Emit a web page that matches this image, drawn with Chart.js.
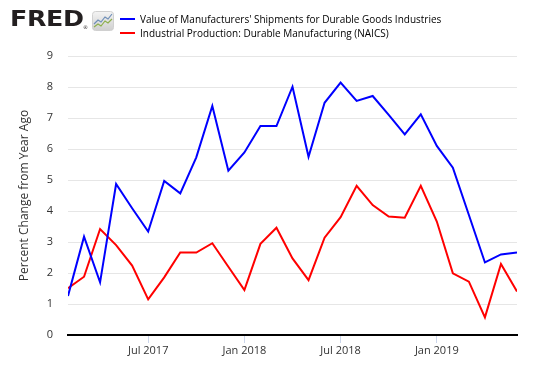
<!DOCTYPE html>
<html lang="en">
<head>
<meta charset="UTF-8" />
<title>FRED - Durable Goods Shipments vs Industrial Production</title>
<script src="https://cdn.jsdelivr.net/npm/chart.js"></script>
<style>
  html, body { margin: 0; padding: 0; background: #fff; }
  #wrap { position: relative; width: 537px; height: 385px; font-family: "Open Sans", sans-serif; color: #333; }
  #chart { position: absolute; left: 0; top: 0; }
  .logo { position: absolute; left: 10px; top: 6px; font: bold 22px "DejaVu Sans", sans-serif; color: #231f20; line-height: 26px;
          transform: scaleX(1.15); transform-origin: left top; letter-spacing: -0.3px; }
  .reg { position: absolute; left: 83px; top: 24px; font: 5px "DejaVu Sans", sans-serif; color: #231f20; }
  .icon { position: absolute; left: 92px; top: 11px; }
  .legend { position: absolute; left: 120px; font-size: 10px; line-height: 14px; white-space: nowrap; color: #000; }
  .legend span.sw { display: inline-block; width: 15px; height: 2px; vertical-align: middle; margin-right: 5px; position: relative; top: -1px; }
</style>
</head>
<body>
<div id="wrap">
  <canvas id="chart" width="537" height="385"></canvas>
  <div class="logo">FRED</div>
  <div class="reg">®</div>
  <svg class="icon" width="22" height="20" viewBox="0 0 22 20">
    <defs>
      <linearGradient id="g" x1="0" y1="0" x2="0" y2="1">
        <stop offset="0" stop-color="#f4f4f4" />
        <stop offset="1" stop-color="#cfcfcf" />
      </linearGradient>
    </defs>
    <rect x="0.5" y="0.5" width="21" height="19" rx="3" fill="url(#g)" stroke="#d0d0d0" />
    <polyline points="2,13 6,9 9,11 13,6 16,8 20,3" fill="none" stroke="#6f8fb8" stroke-width="1.2" />
    <polyline points="2,16 6,13 9,15 13,10 16,12 20,8" fill="none" stroke="#8db04d" stroke-width="1.2" />
  </svg>
  <div class="legend" style="top: 12px;"><span class="sw" style="background:#0000ff"></span>Value of Manufacturers' Shipments for Durable Goods Industries</div>
  <div class="legend" style="top: 26px;"><span class="sw" style="background:#ff0000"></span>Industrial Production: Durable Manufacturing (NAICS)</div>
</div>
<script>
// monthly observations, Feb 2017 .. Jun 2019
const months = [
  "2017-02", "2017-03", "2017-04", "2017-05", "2017-06", "2017-07", "2017-08", "2017-09", "2017-10", "2017-11", "2017-12",
  "2018-01", "2018-02", "2018-03", "2018-04", "2018-05", "2018-06", "2018-07", "2018-08", "2018-09", "2018-10", "2018-11", "2018-12",
  "2019-01", "2019-02", "2019-03", "2019-04", "2019-05", "2019-06"
];

const shipments = [
  1.26, 3.17, 1.70, 4.87, 4.09, 3.34, 4.97, 4.57, 5.73, 7.39, 5.30,
  5.89, 6.74, 6.74, 8.01, 5.75, 7.49, 8.14, 7.55, 7.71, 7.10, 6.47, 7.12,
  6.10, 5.40, 3.87, 2.34, 2.60, 2.66
];

const production = [
  1.51, 1.88, 3.42, 2.90, 2.24, 1.15, 1.86, 2.66, 2.66, 2.96, 2.20,
  1.45, 2.94, 3.46, 2.47, 1.77, 3.14, 3.80, 4.81, 4.19, 3.82, 3.78, 4.81,
  3.66, 1.99, 1.72, 0.57, 2.29, 1.40
];

const tickMonths = ["2017-07", "2018-01", "2018-07", "2019-01"];
const tickLabels = ["Jul 2017", "Jan 2018", "Jul 2018", "Jan 2019"];

const toPoints = (vals) => vals.map((v, i) => ({ x: i, y: v }));

new Chart(document.getElementById("chart"), {
  type: "line",
  data: {
    datasets: [
      { label: "Value of Manufacturers' Shipments for Durable Goods Industries", data: toPoints(shipments),
        borderColor: "#0000ff", borderWidth: 2, pointRadius: 0, tension: 0 },
      { label: "Industrial Production: Durable Manufacturing (NAICS)", data: toPoints(production),
        borderColor: "#ff0000", borderWidth: 2, pointRadius: 0, tension: 0 }
    ]
  },
  options: {
    responsive: false,
    animation: false,
    devicePixelRatio: 1,
    layout: { padding: { left: 0, right: 20, top: 56, bottom: 0 } },
    plugins: { legend: { display: false }, tooltip: { enabled: false } },
    scales: {
      x: {
        type: "linear",
        min: 0,
        max: months.length - 1,
        afterFit: (s) => { s.height = 50; },
        afterBuildTicks: (s) => { s.ticks = tickMonths.map((m) => ({ value: months.indexOf(m) })); },
        ticks: {
          callback: (v) => tickLabels[tickMonths.indexOf(months[v])] || "",
          color: "#333", font: { family: "Open Sans", size: 11 }, padding: 1, maxRotation: 0, autoSkip: false
        },
        grid: { drawOnChartArea: false, drawTicks: true, tickLength: 8, color: "#ccd6eb", lineWidth: 1 },
        border: { display: true, color: "#000", width: 2 }
      },
      y: {
        min: 0,
        max: 9,
        afterFit: (s) => { s.width = 68; },
        ticks: { stepSize: 1, color: "#333", font: { family: "Open Sans", size: 11 }, padding: 15 },
        grid: { color: "#e6e6e6", lineWidth: 1, drawTicks: false },
        border: { display: false },
        title: { display: true, text: "Percent Change from Year Ago", color: "#333",
          font: { family: "Open Sans", size: 12 }, padding: { top: 17, bottom: 0 } }
      }
    }
  }
});
</script>
</body>
</html>
